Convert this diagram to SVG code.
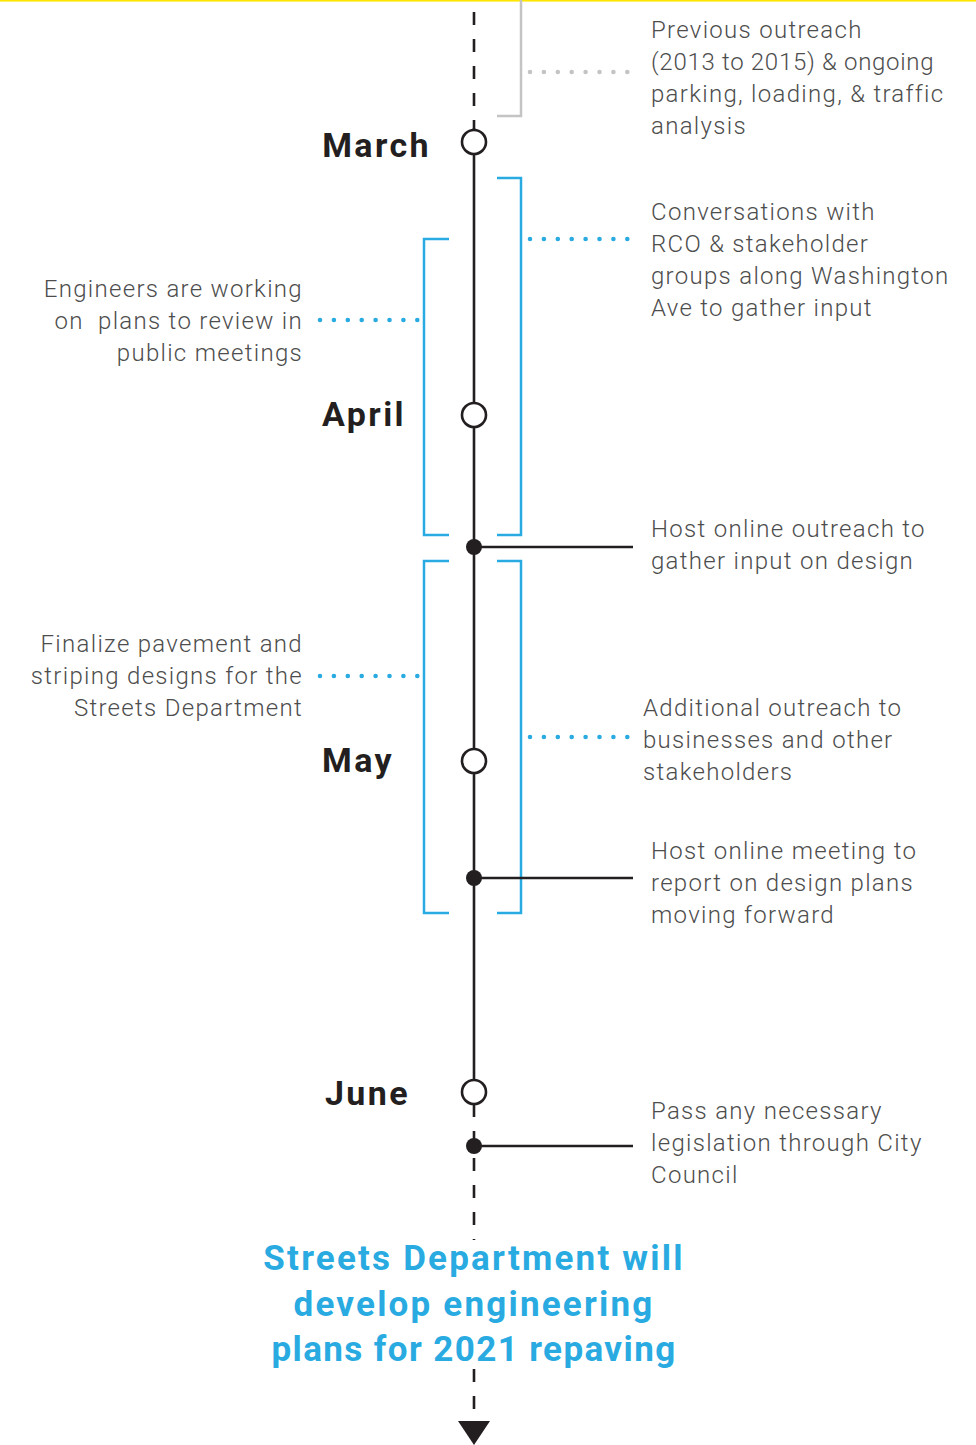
<svg xmlns="http://www.w3.org/2000/svg" width="976" height="1445" viewBox="0 0 976 1445">
<style>
.tl{stroke:#231f20;stroke-width:2.6;fill:none}
.dash{stroke:#231f20;stroke-width:2.6;fill:none;stroke-dasharray:13 14}
.circ{fill:#fff;stroke:#231f20;stroke-width:2.6}
.dot{fill:#231f20}
.br{stroke:#29abe2;stroke-width:2.5;fill:none}
.gbr{stroke:#c4c4c4;stroke-width:2.5;fill:none}
.bd{stroke:#29abe2;stroke-width:4.6;stroke-linecap:round;stroke-dasharray:0 13.9;fill:none}
.gd{stroke:#c4c4c4;stroke-width:4.6;stroke-linecap:round;stroke-dasharray:0 13.9;fill:none}
.t{font-family:Roboto,"Liberation Sans",sans-serif;font-weight:300;font-size:24px;fill:#4d4d4d;letter-spacing:1.3px}
.r{text-anchor:end}
.m{font-family:Roboto,"Liberation Sans",sans-serif;font-weight:700;font-size:34px;fill:#231f20;letter-spacing:2.4px}
.h{font-family:Roboto,"Liberation Sans",sans-serif;font-weight:700;font-size:35px;fill:#29abe2;text-anchor:middle;letter-spacing:2.2px}
</style>
<rect x="0" y="0" width="976" height="1.6" fill="#ffe600"/>
<g id="connectors">
<line class="dash" x1="474" y1="12" x2="474" y2="130"/>
<line class="tl" x1="474" y1="128" x2="474" y2="1080"/>
<line class="dash" x1="474" y1="1104" x2="474" y2="1240"/>
<line class="dash" x1="474" y1="1369" x2="474" y2="1422"/>
<path class="gbr" d="M521 0 V116 H497"/>
<line class="gd" x1="530" y1="72" x2="628" y2="72"/>
<path class="br" d="M497 178 H521 V535 H497"/>
<line class="bd" x1="530" y1="239" x2="628" y2="239"/>
<path class="br" d="M449 239 H424 V535 H449"/>
<line class="bd" x1="320" y1="320" x2="418" y2="320"/>
<path class="br" d="M449 561 H424 V913 H449"/>
<line class="bd" x1="320" y1="676" x2="418" y2="676"/>
<path class="br" d="M497 561 H521 V913 H497"/>
<line class="bd" x1="530" y1="737" x2="628" y2="737"/>
<line class="tl" x1="474" y1="547" x2="633" y2="547"/>
<line class="tl" x1="474" y1="878" x2="633" y2="878"/>
<line class="tl" x1="474" y1="1146" x2="633" y2="1146"/>
<path d="M458 1421 H490 L474 1445 Z" fill="#231f20"/>
</g>
<g id="march"><circle class="circ" cx="474" cy="142" r="12"/><text class="m r" x="431" y="157">March</text></g>
<g id="april"><circle class="circ" cx="474" cy="415" r="12"/><text class="m r" x="406" y="426">April</text></g>
<g id="may"><circle class="circ" cx="474" cy="761" r="12"/><text class="m r" x="394" y="772">May</text></g>
<g id="june"><circle class="circ" cx="474" cy="1092" r="12"/><text class="m r" x="410" y="1105">June</text></g>
<g id="ev1"><circle class="dot" cx="474" cy="547" r="8"/></g>
<g id="ev2"><circle class="dot" cx="474" cy="878" r="8"/></g>
<g id="ev3"><circle class="dot" cx="474" cy="1146" r="8"/></g>
<g id="previous">
<text class="t" x="651" y="38">Previous outreach</text>
<text class="t" x="651" y="70" style="letter-spacing:0.7px">(2013 to 2015) &amp; ongoing</text>
<text class="t" x="651" y="102">parking, loading, &amp; traffic</text>
<text class="t" x="651" y="134">analysis</text>
</g>
<g id="conversations">
<text class="t" x="651" y="220">Conversations with</text>
<text class="t" x="651" y="252">RCO &amp; stakeholder</text>
<text class="t" x="651" y="284">groups along Washington</text>
<text class="t" x="651" y="316">Ave to gather input</text>
</g>
<g id="engineers">
<text class="t r" x="303" y="297">Engineers are working</text>
<text class="t r" x="303" y="329">on&#160; plans to review in</text>
<text class="t r" x="303" y="361">public meetings</text>
</g>
<g id="host1">
<text class="t" x="651" y="537">Host online outreach to</text>
<text class="t" x="651" y="569">gather input on design</text>
</g>
<g id="finalize">
<text class="t r" x="303" y="652">Finalize pavement and</text>
<text class="t r" x="303" y="684">striping designs for the</text>
<text class="t r" x="303" y="716">Streets Department</text>
</g>
<g id="additional">
<text class="t" x="643" y="716">Additional outreach to</text>
<text class="t" x="643" y="748">businesses and other</text>
<text class="t" x="643" y="780">stakeholders</text>
</g>
<g id="host2">
<text class="t" x="651" y="859">Host online meeting to</text>
<text class="t" x="651" y="891">report on design plans</text>
<text class="t" x="651" y="923">moving forward</text>
</g>
<g id="pass">
<text class="t" x="651" y="1119">Pass any necessary</text>
<text class="t" x="651" y="1151">legislation through City</text>
<text class="t" x="651" y="1183">Council</text>
</g>
<g id="outcome">
<text class="h" x="474" y="1270">Streets Department will</text>
<text class="h" x="474" y="1316">develop engineering</text>
<text class="h" x="474" y="1361" style="letter-spacing:1.4px">plans for 2021 repaving</text>
</g>
</svg>
